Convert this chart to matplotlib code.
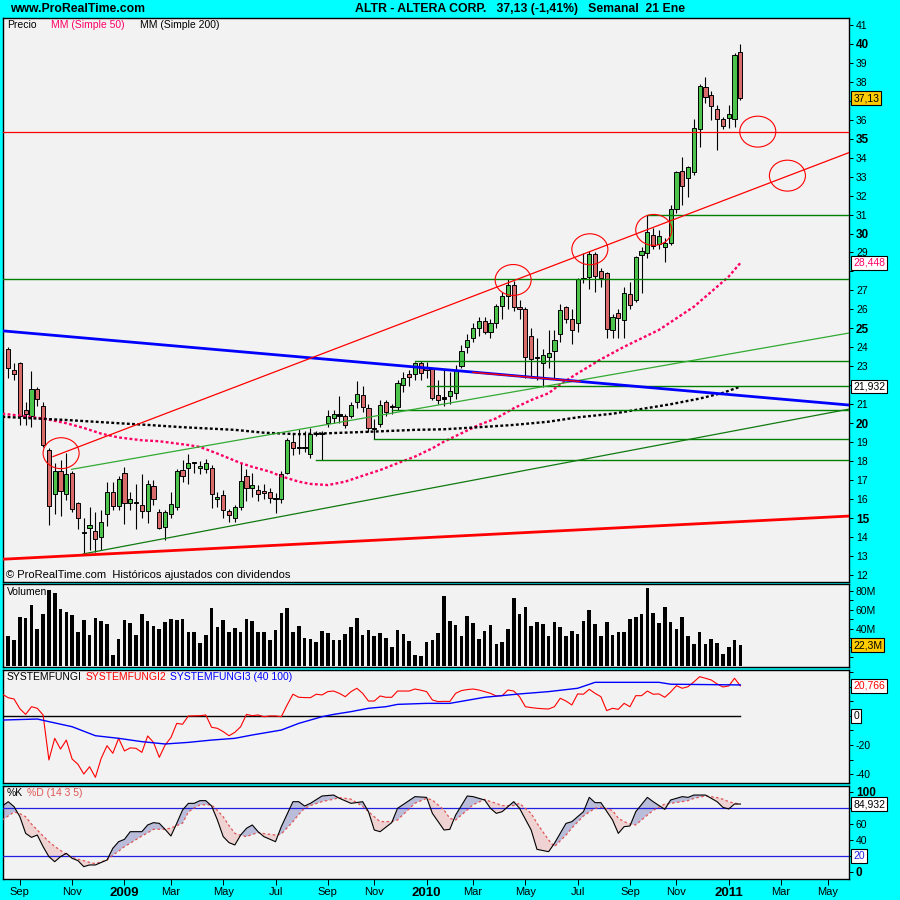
#!/usr/bin/env python3
"""ALTR weekly chart in the ProRealTime style: candles + studies, volume,
SystemFungi and a stochastic, all sharing one weekly bar axis."""
import numpy as np
import pandas as pd
import matplotlib
matplotlib.use('Agg')
import matplotlib.pyplot as plt
from matplotlib.patches import Ellipse

plt.rcParams['font.family'] = ['Liberation Sans', 'DejaVu Sans']

# weekly bars, dated on the Monday of each week (last one = week of 21 Ene 2011)
weeks = pd.date_range('2008-08-18', periods=127, freq='7D')

opens = [23.9, 22.8, 23.15, 20.7, 20.4, 21.8, 20.9, 18.6, 16.25, 17.5,
         16.25, 17.4, 15.8, 14.25, 14.5, 14.3, 14.0, 15.2, 16.4, 15.65,
         17.4, 15.8, 15.8, 15.7, 15.35, 16.7, 15.3, 14.55, 15.2, 15.6,
         17.55, 17.65, 17.9, 17.65, 17.6, 17.65, 16.0, 16.2, 15.35, 15.0,
         15.6, 17.2, 16.6, 16.5, 16.45, 16.35, 16.05, 16.0, 17.4, 19.0,
         18.7, 18.7, 18.4, 19.45, 19.45, 20.0, 20.3, 20.42, 20.4, 20.4,
         21.1, 21.5, 20.8, 19.72, 19.95, 21.1, 20.87, 20.85, 22.0, 22.6,
         22.6, 23.15, 22.9, 22.85, 21.5, 21.32, 21.45, 21.6, 23.0, 24.0,
         24.5, 25.0, 25.4, 24.8, 25.3, 26.2, 26.7, 27.3, 26.1, 26.0,
         24.6, 23.44, 23.17, 23.51, 23.82, 24.7, 26.15, 25.5, 25.3, 27.62,
         27.7, 28.9, 28.0, 27.9, 24.9, 25.8, 25.45, 26.8, 26.5, 28.85,
         28.95, 29.9, 29.45, 29.3, 29.5, 31.3, 33.3, 32.9, 33.25, 35.5,
         37.7, 37.3, 36.55, 36.05, 36.1, 36.05, 39.55]
highs = [24.0, 23.2, 23.25, 21.1, 22.75, 21.9, 21.1, 18.7, 17.9, 18.05,
         18.45, 17.5, 15.85, 15.0, 15.6, 15.3, 15.4, 16.9, 16.9, 17.2,
         17.7, 16.4, 16.8, 17.3, 17.0, 17.0, 15.5, 15.45, 16.4, 17.6,
         18.05, 18.4, 17.95, 18.0, 18.1, 17.8, 16.4, 16.5, 15.5, 15.7,
         17.9, 17.6, 17.4, 16.75, 16.8, 16.6, 16.3, 17.5, 19.2, 19.5,
         19.7, 19.6, 19.75, 19.6, 19.6, 20.7, 20.7, 21.45, 20.5, 21.1,
         22.2, 21.95, 21.0, 20.2, 21.2, 21.25, 21.0, 22.3, 22.7, 22.8,
         23.25, 23.3, 23.25, 22.9, 22.3, 22.8, 22.7, 23.05, 24.1, 24.7,
         25.3, 25.6, 25.6, 25.5, 26.3, 26.9, 27.6, 27.5, 26.5, 26.1,
         25.0, 24.5, 23.9, 24.9, 24.9, 26.3, 26.2, 26.0, 27.65, 28.96,
         29.1, 29.0, 28.2, 27.95, 25.75, 26.0, 27.2, 27.45, 28.8, 29.3,
         31.0, 30.3, 30.2, 29.75, 31.5, 33.3, 34.05, 33.55, 36.05, 37.9,
         38.25, 37.5, 36.8, 36.15, 36.8, 39.5, 40.0]
lows = [22.4, 22.3, 19.9, 19.9, 19.8, 20.9, 18.75, 14.65, 15.2, 15.1,
        15.95, 15.3, 14.4, 13.1, 13.3, 13.2, 13.3, 14.6, 15.4, 15.4,
        14.7, 15.4, 14.4, 15.0, 14.75, 15.7, 14.4, 13.85, 15.0, 15.4,
        16.9, 16.8, 17.4, 17.3, 17.4, 15.55, 15.6, 15.0, 14.8, 14.8,
        15.4, 15.9, 16.1, 15.9, 16.0, 15.8, 15.25, 15.8, 17.3, 18.3,
        18.4, 18.5, 18.15, 19.3, 18.06, 19.8, 20.0, 20.0, 19.75, 20.3,
        20.8, 20.6, 19.55, 19.15, 19.8, 20.4, 20.5, 20.7, 21.65, 21.95,
        22.3, 22.3, 22.4, 21.2, 21.0, 20.9, 21.0, 21.3, 22.9, 23.7,
        24.3, 24.6, 24.7, 24.5, 25.0, 25.5, 26.0, 25.9, 25.5, 22.4,
        22.4, 22.3, 21.93, 22.9, 22.4, 24.3, 25.3, 24.2, 24.8, 27.4,
        27.1, 26.9, 27.2, 24.5, 24.5, 24.5, 24.5, 26.0, 26.4, 26.85,
        28.7, 29.2, 29.2, 28.5, 29.4, 31.1, 31.5, 31.95, 33.1, 34.55,
        36.9, 36.0, 34.4, 35.5, 35.55, 35.6, 37.05]
closes = [22.9, 22.6, 20.4, 20.5, 21.8, 21.3, 18.85, 15.65, 17.5, 16.45,
          17.3, 15.5, 15.0, 14.2, 14.65, 13.9, 14.8, 16.4, 15.65, 17.05,
          15.8, 16.0, 15.78, 15.35, 16.8, 16.0, 14.5, 15.3, 15.75, 17.5,
          17.2, 17.9, 17.92, 17.75, 17.9, 16.25, 16.1, 15.45, 15.15, 15.6,
          16.95, 16.6, 16.75, 16.25, 16.3, 16.05, 16.0, 17.3, 19.1, 18.7,
          18.72, 18.75, 19.45, 19.47, 19.5, 20.4, 20.5, 20.4, 19.9, 20.95,
          21.55, 20.85, 19.75, 19.7, 20.95, 20.6, 20.85, 22.1, 22.4, 22.45,
          23.15, 22.65, 22.8, 21.35, 21.2, 21.3, 21.7, 22.8, 23.8, 24.4,
          25.0, 25.4, 24.8, 25.3, 26.2, 26.7, 27.3, 26.1, 26.0, 23.5,
          23.37, 23.42, 23.6, 23.69, 24.39, 25.95, 25.5, 24.9, 27.6, 27.6,
          28.9, 27.75, 27.65, 24.95, 25.6, 25.55, 26.85, 26.25, 28.75, 29.1,
          30.1, 29.35, 29.85, 29.5, 31.3, 33.25, 32.5, 33.5, 35.55, 37.8,
          37.2, 36.7, 36.05, 35.65, 36.3, 39.4, 37.13]

volume_m = [32, 27.7, 52.6, 50.8, 65, 39.5, 55.5, 81, 77.5, 60.8,
            57.6, 54.8, 36.3, 49, 33, 51.2, 48, 44.8, 11.7, 28.8,
            49, 45.9, 33, 55.5, 48, 42.7, 39.5, 46.9, 50.1, 49,
            50.1, 36.3, 36.3, 24.5, 33, 61.9, 41.6, 49, 36.3, 40.5,
            36.3, 50.1, 48, 36.3, 36.3, 27.7, 38.4, 56.5, 61.9, 36.3,
            42.7, 29.9, 28.8, 25.6, 37.3, 35.2, 27.7, 27.7, 34.1, 41.6,
            51.2, 33, 38.4, 32, 35.2, 29.9, 20.3, 38.4, 34.1, 26.7,
            11.7, 10.7, 25.6, 27.7, 35.2, 74.7, 48, 43.7, 32, 53.3,
            45.9, 28.8, 37.3, 43.7, 23.5, 25.6, 39.5, 72.5, 55.5, 62.9,
            42.7, 46.9, 44.8, 32, 46.9, 41.6, 32, 37.3, 34.1, 48,
            59.7, 44.8, 32, 46.9, 33, 36.3, 36.3, 50.1, 52.3, 55.5,
            83.2, 56.5, 45.9, 62.9, 46.9, 39.5, 52.3, 32, 23.5, 36.3,
            23.5, 28.8, 24.5, 12.8, 20.3, 27.7, 22.3]

# moving averages read at sample bars
ma50_bar = [-1, 2, 6, 10, 13, 16, 19, 23, 26, 31, 33, 36, 40, 42, 45, 47, 50, 52,
            55, 58, 61, 64, 67, 70, 73, 75, 78, 81, 84, 87, 90, 93, 95, 98, 102,
            106, 112, 118, 121, 124, 126]
ma50_val = [20.5, 20.4, 20.25, 20.0, 19.75, 19.45, 19.25, 19.1, 19.05, 18.85, 18.75,
            18.4, 17.9, 17.7, 17.45, 17.2, 16.92, 16.8, 16.74, 16.92, 17.23, 17.53,
            17.89, 18.24, 18.68, 19.03, 19.47, 19.91, 20.26, 20.79, 21.22, 21.58,
            22.05, 22.63, 23.37, 24.03, 24.92, 26.14, 26.93, 27.73, 28.448]
ma200_bar = [-1, 4, 10, 19, 24, 30, 39, 44, 50, 55, 63, 70, 75, 81, 87, 93, 98,
             104, 109, 114, 119, 123, 126]
ma200_val = [20.34, 20.26, 20.17, 20.0, 19.91, 19.79, 19.65, 19.5, 19.42, 19.47,
             19.56, 19.65, 19.68, 19.79, 19.91, 20.08, 20.31, 20.5, 20.75, 21.0,
             21.3, 21.6, 21.932]

# drawn studies on the price panel
red_level = 35.35
green_level_full = 27.59
green_level_from = [110, 70, 72, 66, 63, 53]
green_level_val = [30.98, 23.28, 21.96, 20.68, 19.15, 18.05]
channel_red = ([7.7, 145], [18.24, 34.3])
channel_green_light = ([10.9, 145], [17.57, 24.77])
channel_green_dark = ([12.9, 145], [13.11, 20.76])
base_red = ([-1, 145], [12.83, 15.11])
trend_blue = ([-1, 145], [24.87, 20.95])
blue_red_overlay = ([80, 98.4], [22.68, 22.2])
circle_bar = [9.1, 86.9, 100.1, 111.1, 129.0, 134.1]
circle_price = [18.42, 27.55, 29.17, 30.19, 35.37, 33.05]

# SystemFungi2 per bar, from the bar before the window (-1) to the last (126)
sf2_val = [15.0, 12.6, 11.7, 5.0, 1.1, 6.4, 5.3, 0.7, -30.3, -15.4,
           -22.8, -16.6, -29.7, -33.3, -40, -35, -42.3, -29.2, -20.5, -25.7,
           -15.4, -24.1, -22, -22.3, -25.1, -13.8, -18.2, -28.5, -20, -14.9,
           -5.1, -5.7, 0, 0.1, 0.2, 0.7, -7.8, -8.5, -10.8, -13.6,
           -11.3, -7.4, 1.1, 0.2, 0.7, -0.5, 0, 0, -0.5, 7.6,
           15, 12.9, 12.7, 12.6, 15, 14.5, 16.8, 17.2, 15.6, 13.3,
           16.8, 19.1, 15.6, 10.3, 10.3, 13.8, 12.9, 12.9, 17.2, 17.2,
           17.2, 18.6, 17.8, 16.8, 11, 9.9, 10.1, 10, 15.6, 17.5,
           18.2, 18.6, 17.9, 16.8, 15.6, 13.8, 14, 17.9, 17.2, 13.3,
           6.4, 5.8, 5.3, 5.0, 4.8, 6.4, 12.2, 10.3, 7.6, 15.2,
           15, 18.4, 15.6, 13.3, 3.7, 5.3, 4.6, 8.7, 6.4, 14,
           14, 17.2, 15, 15.2, 12.9, 16.5, 20.9, 19.1, 20.2, 23.5,
           27.1, 26.0, 24.8, 22.1, 20, 20.7, 26, 20.766]
sf3_bar = [-1, 5, 7, 11, 15, 19, 23, 27, 31, 35, 39, 42, 47, 50, 54, 56, 59, 62,
           65, 67, 72, 76, 82, 88, 93, 98, 101, 112, 114, 126]
sf3_val = [-2.8, -2.1, -3.9, -7.4, -13.6, -15.4, -17.7, -19.3, -18.2, -16.6, -15.4,
           -13.1, -9.7, -5.1, -0.5, 1.1, 3.0, 5.3, 6.4, 8.0, 8.7, 8.7, 12.9, 15.2,
           16.8, 19.1, 23.2, 23.2, 21.9, 21.4]

# stochastic %K / %D read at the same bars
stoch_bar = [-1, 0, 1, 2, 3, 4, 5, 6, 7, 8, 9, 10, 11, 12, 13, 14, 15, 17, 18, 19,
             20, 21, 23, 24, 25, 26, 27, 28, 29, 30, 31, 32, 33, 34, 35, 36, 37, 38,
             39, 40, 41, 42, 43, 44, 46, 47, 49, 50, 51, 52, 54, 56, 57, 59, 61, 62,
             63, 64, 66, 67, 70, 72, 73, 75, 76, 77, 79, 80, 82, 83, 84, 85, 87, 88,
             90, 91, 93, 94, 96, 97, 99, 100, 101, 102, 104, 105, 106, 107, 108, 110,
             111, 113, 114, 116, 117, 118, 120, 122, 123, 124, 125, 126]
stoch_k = [82.5, 87.9, 81.7, 69.2, 48.3, 43.3, 46.2, 31.7, 19.2, 12.9, 19.2, 23.3,
           17.1, 14.2, 6.7, 8.8, 8.8, 15, 29.6, 37.9, 40.8, 50.4, 50.4, 58.8, 61.7,
           60.8, 53.3, 45, 60.8, 77.5, 85.8, 85.8, 89.2, 89.2, 82.5, 65, 44.2, 36.7,
           33.8, 46.2, 54.6, 58.8, 50.4, 44.2, 37.9, 56.7, 87.9, 87.9, 82.5, 85.8,
           95, 96.2, 92.1, 85.8, 87.9, 75.4, 52.5, 50.4, 61.7, 79.6, 94.2, 93.3, 73.3,
           52.5, 53.3, 71.2, 95, 94.2, 90, 79.6, 73.3, 75.4, 87.9, 79.6, 52.5, 28.3,
           25.4, 35.8, 60.8, 62.9, 75.4, 93.3, 86.7, 86.7, 65, 48.3, 56.7, 57.5, 75.4,
           93.3, 87.9, 78.3, 90, 94.2, 93.3, 96.2, 96.2, 87.9, 80.8, 78.8, 85, 84.932]
stoch_d = [65, 70, 75, 73, 69, 60, 52.5, 45, 38, 32, 27, 22, 18.3, 16, 14.2, 12,
           10.5, 15, 21, 26, 31.7, 36, 45, 49, 53.3, 53.5, 53.3, 55, 58, 61, 75, 80,
           83.8, 84, 83.8, 77, 69, 58, 48.3, 46, 44.2, 47, 49.2, 48, 46.2, 47.5, 63,
           72, 79.6, 83, 88, 91, 93, 91, 82, 75.4, 69, 63, 63, 65, 86, 92, 90, 77.5,
           67, 65, 77.5, 84, 90.8, 88, 85.8, 83, 83, 85.8, 73.3, 61, 40, 31.7, 46.2,
           55, 70, 75, 79.6, 81, 77, 67.1, 63, 60, 58.8, 71.2, 77, 85, 85.8, 88, 89.2,
           92, 95, 93, 91, 87.9, 86, 85]

CYAN = '#00FFFF'
PANEL = '#F2F2F2'
UP = '#4CC44C'
DOWN = '#D96B6B'
PINK = '#FF0066'
X_LEFT, X_RIGHT = -0.9, 144.7


def ftext(px, py, s, **kw):
    """Figure text placed in pixel coordinates of the 900x900 canvas."""
    kw.setdefault('fontsize', 7.5)
    kw.setdefault('va', 'center')
    plt.gcf().text(px / 900, 1 - py / 900, s, **kw)


def panel(fig, top, bottom):
    ax = fig.add_axes([3 / 900, 1 - bottom / 900, 846 / 900, (bottom - top) / 900])
    ax.set_facecolor(PANEL)
    ax.set_xlim(X_LEFT, X_RIGHT)
    for s in ax.spines.values():
        s.set_color('black')
        s.set_linewidth(1.0)
    ax.yaxis.tick_right()
    ax.tick_params(axis='y', direction='out', length=3, width=0.7, labelsize=7.5, pad=2)
    ax.tick_params(axis='x', bottom=False, labelbottom=False)
    return ax


def right_ticks(ax, ticks, fmt, hidden=(), bold=()):
    """Right-hand tick labels; the ones sitting under a value box are left blank."""
    ax.set_yticks(ticks, labels=['' if t in hidden else fmt(t) for t in ticks])
    for t, lab in zip(ticks, ax.get_yticklabels()):
        if t in bold:
            lab.set_fontweight('bold')
            lab.set_fontsize(8.5)


def value_box(ax, y, text, fc='white', tc='black'):
    ax.text(1.005, y, text, transform=ax.get_yaxis_transform(), ha='left', va='center',
            fontsize=7.5, color=tc, zorder=10, clip_on=False,
            bbox=dict(boxstyle='square,pad=0.18', fc=fc, ec='black', lw=0.8))


def draw_price(ax):
    ax.set_ylim(11.63, 41.36)
    right_ticks(ax, list(range(12, 42)), str, hidden=(37, 28, 22),
                bold=(15, 20, 25, 30, 35, 40))

    x = np.arange(len(opens))
    o, h, l, c = (np.array(v) for v in (opens, highs, lows, closes))
    ax.vlines(x, l, h, color='black', lw=0.8, zorder=2)
    doji = np.abs(c - o) < 0.06
    colors = np.where(doji, 'black', np.where(c >= o, UP, DOWN))
    ax.bar(x, np.maximum(np.abs(c - o), 0.06), bottom=np.minimum(o, c), width=0.72,
           color=colors, edgecolor='black', linewidth=0.7, zorder=3)

    ax.plot(ma50_bar, ma50_val, color=PINK, lw=1.7, ls=(0, (1.2, 1.0)), zorder=4)
    ax.plot(ma200_bar, ma200_val, color='black', lw=1.7, ls=(0, (1.2, 1.0)), zorder=4)

    ax.axhline(red_level, color='#FF0000', lw=0.9, zorder=5)
    ax.axhline(green_level_full, color='#008000', lw=1.0, zorder=5)
    for start, lvl in zip(green_level_from, green_level_val):
        ax.plot([start, X_RIGHT + 1], [lvl, lvl], color='#008000', lw=1.0, zorder=5)
    ax.plot(*channel_green_light, color='#33AA33', lw=0.9, zorder=5)
    ax.plot(*channel_green_dark, color='#107A10', lw=0.9, zorder=5)
    ax.plot(*trend_blue, color='#0000FF', lw=2.0, zorder=5)
    ax.plot(*blue_red_overlay, color='#FF0000', lw=1.0, zorder=6)
    ax.plot(*base_red, color='#FF0000', lw=2.0, zorder=5)
    ax.plot(*channel_red, color='#FF0000', lw=0.9, zorder=6)
    for b, p in zip(circle_bar, circle_price):
        ax.add_patch(Ellipse((b, p), 6.2, 1.63, fill=False, ec='#FF0000', lw=0.8, zorder=7))

    value_box(ax, closes[-1], '37,13', fc='#FFCC00')
    value_box(ax, ma50_val[-1], '28,448', tc=PINK)
    value_box(ax, ma200_val[-1], '21,932')


def draw_volume(ax):
    ax.set_ylim(-1, 87.5)
    ticks = list(range(10, 90, 10))
    right_ticks(ax, ticks, lambda t: f'{t}M' if t % 20 == 0 else '', hidden=(20,))
    ax.bar(np.arange(len(volume_m)), volume_m, width=0.62, color='black', zorder=3)
    value_box(ax, volume_m[-1], '22,3M', fc='#FFCC00')


def draw_fungi(ax):
    ax.set_ylim(-46.2, 31.7)
    ticks = list(range(-40, 31, 10))
    right_ticks(ax, ticks, lambda t: str(t) if t % 20 == 0 else '', hidden=(0, 20))
    ax.plot([X_LEFT, len(opens) - 1], [0, 0], color='black', lw=1.0, zorder=3)
    ax.plot(range(-1, len(opens)), sf2_val, color='#FF0000', lw=0.8, zorder=4)
    ax.plot(sf3_bar, sf3_val, color='#0000FF', lw=1.0, zorder=4)
    value_box(ax, sf2_val[-1], '20,766', tc='#FF0000')
    value_box(ax, 0, '0')


def draw_stoch(ax):
    ax.set_ylim(-8.75, 107.5)
    right_ticks(ax, [0, 20, 40, 60, 80, 100], str, hidden=(20, 80), bold=(0, 100))
    k, d = np.array(stoch_k), np.array(stoch_d)
    ax.fill_between(stoch_bar, k, d, where=k >= d, interpolate=True,
                    color='#BABDDA', lw=0, zorder=2)
    ax.fill_between(stoch_bar, k, d, where=k < d, interpolate=True,
                    color='#EFD2D2', lw=0, zorder=2)
    ax.axhline(80, color='#2020E0', lw=0.9, zorder=3)
    ax.axhline(20, color='#2020E0', lw=0.9, zorder=3)
    ax.plot(stoch_bar, d, color='#E05555', lw=0.9, ls=(0, (2, 2)), zorder=4)
    ax.plot(stoch_bar, k, color='black', lw=0.8, zorder=5)
    value_box(ax, stoch_k[-1], '84,932')
    value_box(ax, 20, '20', tc='#2020E0')

    # month ticks at the first weekly bar of every second month, extended past the data
    axis_weeks = pd.date_range(weeks[0], periods=146, freq='7D')
    names = {3: 'Mar', 5: 'May', 7: 'Jul', 9: 'Sep', 11: 'Nov'}
    pos, labels = [], []
    for i in range(1, len(axis_weeks)):
        m = axis_weeks[i].month
        if m != axis_weeks[i - 1].month and m % 2 == 1:
            pos.append(i)
            labels.append(str(axis_weeks[i].year) if m == 1 else names[m])
    ax.set_xticks(pos, labels=labels)
    ax.tick_params(axis='x', bottom=True, labelbottom=True, direction='out',
                   length=4, width=0.7, labelsize=8, pad=2)
    for lab in ax.get_xticklabels():
        if lab.get_text().isdigit():
            lab.set_fontweight('bold')
            lab.set_fontsize(9.5)


def main():
    fig = plt.figure(figsize=(9, 9), dpi=100, facecolor=CYAN)

    ax_p = panel(fig, 18, 582)
    draw_price(ax_p)
    ax_v = panel(fig, 584, 667)
    draw_volume(ax_v)
    ax_f = panel(fig, 670, 783)
    draw_fungi(ax_f)
    ax_s = panel(fig, 786, 879)
    draw_stoch(ax_s)

    ftext(10, 9, 'www.ProRealTime.com', fontsize=8.8, weight='bold')
    ftext(355, 9, 'ALTR - ALTERA CORP.   37,13 (-1,41%)   Semanal  21 Ene',
          fontsize=8.8, weight='bold')

    ftext(7, 25, 'Precio')
    ftext(51, 25, 'MM (Simple 50)', color=PINK)
    ftext(140, 25, 'MM (Simple 200)')
    ftext(6, 575, '\u00a9 ProRealTime.com  Hist\u00f3ricos ajustados con dividendos', fontsize=8)

    ftext(7, 592, 'Volumen')
    ftext(7, 677, 'SYSTEMFUNGI')
    ftext(86, 677, 'SYSTEMFUNGI2', color='#FF0000')
    ftext(170, 677, 'SYSTEMFUNGI3 (40 100)', color='#0000FF')
    ftext(7, 793, '%K')
    ftext(27, 793, '%D (14 3 5)', color='#E05555')

    fig.savefig('out.png', dpi=100, facecolor=CYAN)
    plt.close(fig)


if __name__ == '__main__':
    main()
